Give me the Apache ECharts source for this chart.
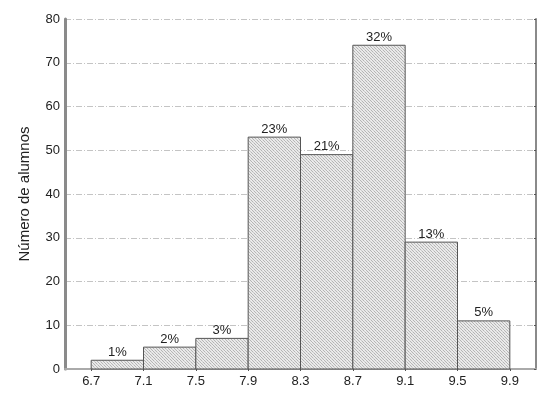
<!DOCTYPE html>
<html><head><meta charset="utf-8">
<script src="https://cdn.jsdelivr.net/npm/echarts@6/dist/echarts.min.js"></script>
<style>html,body{margin:0;padding:0;background:#fff}#c{width:543px;height:399px}</style>
</head><body><div id="c"></div>
<script>
const binStarts = [6.7, 7.1, 7.5, 7.9, 8.3, 8.7, 9.1, 9.5];
const binEnds   = [7.1, 7.5, 7.9, 8.3, 8.7, 9.1, 9.5, 9.9];
const counts    = [2, 5, 7, 53, 49, 74, 29, 11];
const percents  = ['1%', '2%', '3%', '23%', '21%', '32%', '13%', '5%'];
const xTicks    = [6.7, 7.1, 7.5, 7.9, 8.3, 8.7, 9.1, 9.5, 9.9];

// hatch pattern
const pc = document.createElement('canvas');
pc.width = 6; pc.height = 6;
const g = pc.getContext('2d');
g.fillStyle = '#e8e8e8'; g.fillRect(0, 0, 6, 6);
g.strokeStyle = 'rgba(110,110,110,0.42)'; g.lineWidth = 1;
for (let k = -6; k <= 12; k += 3) {
  g.beginPath(); g.moveTo(k, 0); g.lineTo(k + 6, 6); g.stroke();
}
g.strokeStyle = 'rgba(255,255,255,0.3)';
for (let k = -6; k <= 12; k += 6) {
  g.beginPath(); g.moveTo(k, 6); g.lineTo(k + 6, 0); g.stroke();
}

const data = counts.map((c, i) => [binStarts[i], binEnds[i], c, percents[i]]);
const chart = echarts.init(document.getElementById('c'));
const font = '"Liberation Sans", Arial, sans-serif';
chart.setOption({
  animation: false,
  grid: {left: 65, right: 7, top: 19, bottom: 30},
  xAxis: [{
    type: 'value', min: 6.5, max: 10.1,
    axisLine: {lineStyle: {color: '#8a8a8a', width: 2}},
    axisTick: {show: false},
    splitLine: {show: false},
    axisLabel: {customValues: xTicks, color: '#222', fontSize: 13, fontFamily: font, margin: 6,
      formatter: v => v.toFixed(1)}
  }, {
    type: 'value', min: 6.5, max: 10.1, position: 'top',
    axisLine: {show: true, lineStyle: {color: '#aaa', width: 2}},
    axisTick: {show: true, inside: true, length: 2, customValues: xTicks, lineStyle: {color: '#555'}},
    axisLabel: {show: false}, splitLine: {show: false}
  }],
  yAxis: [{
    type: 'value', min: 0, max: 80, interval: 10,
    name: 'Número de alumnos', nameLocation: 'middle', nameGap: 33,
    nameTextStyle: {fontSize: 15, color: '#222', fontFamily: font},
    axisLine: {show: true, lineStyle: {color: '#8a8a8a', width: 3}},
    axisTick: {show: false},
    axisLabel: {color: '#222', fontSize: 13, fontFamily: font, margin: 5},
    splitLine: {show: true, lineStyle: {color: '#c4c4c4', type: [6, 2, 1, 2], width: 1}}
  }, {
    type: 'value', min: 0, max: 80, interval: 10, position: 'right',
    axisLine: {show: true, lineStyle: {color: '#8a8a8a', width: 2}},
    axisTick: {show: true, inside: true, length: 2, lineStyle: {color: '#555'}},
    axisLabel: {show: false}, splitLine: {show: false}
  }],
  series: [{
    type: 'custom',
    xAxisIndex: 0, yAxisIndex: 0,
    data: data,
    renderItem: function (params, api) {
      const p0 = api.coord([api.value(0), api.value(2)]);
      const p1 = api.coord([api.value(1), 0]);
      return {
        type: 'rect',
        shape: {x: p0[0], y: p0[1], width: p1[0] - p0[0], height: p1[1] - p0[1]},
        style: {fill: {image: pc, repeat: 'repeat'}, stroke: '#555', lineWidth: 1},
        textContent: {style: {text: api.value(3), fill: '#222', fontSize: 13, fontFamily: font}},
        textConfig: {position: 'top', distance: 1}
      };
    },
    encode: {x: [0, 1], y: 2}
  }]
});
</script></body></html>
